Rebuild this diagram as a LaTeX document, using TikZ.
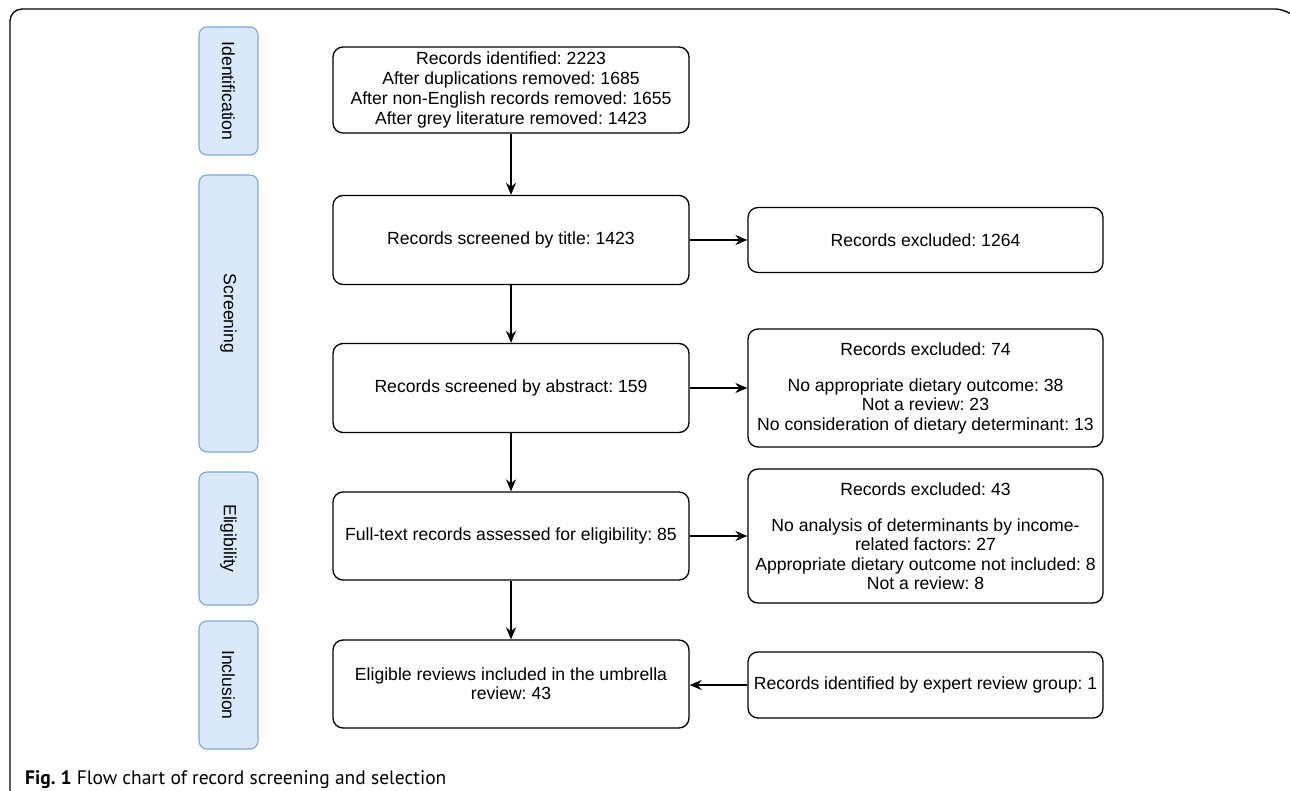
\documentclass[tikz,border=0pt]{standalone}
\usepackage{fontspec}
\setmainfont{Liberation Sans}
\newfontfamily\capfont{PT Sans}
\usetikzlibrary{arrows.meta}
\frenchspacing
\begin{document}
\begin{tikzpicture}[x=1pt,y=-1pt,
  box/.style={draw=black,line width=1.3pt,rounded corners=10pt,fill=white,align=center,font=\fontsize{17.6}{19.3}\selectfont,inner sep=0pt},
  stage/.style={draw=stageedge,line width=1.1pt,rounded corners=8pt,fill=stagefill},
  stagetext/.style={rotate=-90,font=\fontsize{17.6}{19}\selectfont},
  arr/.style={line width=1.4pt,-{Stealth[length=12pt,width=10pt]}}]
\definecolor{stagefill}{HTML}{DAE8FC}
\definecolor{stageedge}{HTML}{7EA6E0}
\useasboundingbox (0,0) rectangle (1290,791);
% outer frame
\draw[line width=1.3pt,rounded corners=12pt] (10,795) -- (10,9) -- (1287,9) -- (1290,12);
% stage boxes
\node[stage,minimum width=59pt,minimum height=128pt] (sid) at (228.5,91) {};
\node[stagetext] at (sid.center) {Identification};
\node[stage,minimum width=59pt,minimum height=277pt] (ssc) at (228.5,313.5) {};
\node[stagetext] at (ssc.center) {Screening};
\node[stage,minimum width=59pt,minimum height=133pt] (sel) at (228.5,538.5) {};
\node[stagetext] at (sel.center) {Eligibility};
\node[stage,minimum width=59pt,minimum height=128pt] (sin) at (228.5,685) {};
\node[stagetext] at (sin.center) {Inclusion};
% main column
\node[box,minimum width=356pt,minimum height=86pt,font=\fontsize{17.6}{20.3}\selectfont] (b1) at (511,90) {Records identified: 2223\\After duplications removed: 1685\\After non-English records removed: 1655\\After grey literature removed: 1423};
\node[box,minimum width=356pt,minimum height=89pt] (b2) at (511,240) {Records screened by title: 1423};
\node[box,minimum width=356pt,minimum height=89pt] (b3) at (511,388) {Records screened by abstract: 159};
\node[box,minimum width=356pt,minimum height=88pt] (b4) at (511,536) {Full-text records assessed for eligibility: 85};
\node[box,minimum width=356pt,minimum height=88pt] (b5) at (511,684) {Eligible reviews included in the umbrella\\review: 43};
% right column
\node[box,minimum width=355pt,minimum height=65pt] (r1) at (925.5,240) {Records excluded: 1264};
\node[box,minimum width=355pt,minimum height=118pt] (r2) at (925.5,388) {Records excluded: 74\\[17pt]No appropriate dietary outcome: 38\\Not a review: 23\\No consideration of dietary determinant: 13};
\node[box,minimum width=355pt,minimum height=134pt] (r3) at (925.5,536) {Records excluded: 43\\[17pt]No analysis of determinants by income-\\related factors: 27\\Appropriate dietary outcome not included: 8\\Not a review: 8};
\node[box,minimum width=355pt,minimum height=66pt] (r4) at (925.5,685) {Records identified by expert review group: 1};
% connectors
\draw[arr] (b1) -- (b2);
\draw[arr] (b2) -- (b3);
\draw[arr] (b3) -- (b4);
\draw[arr] (b4) -- (b5);
\draw[arr] (b2) -- (r1);
\draw[arr] (b3.east) -- (b3.east -| r2.west);
\draw[arr] (b4.east) -- (r3.west |- b4.east);
\draw[arr] (r4.west) -- (b5.east |- r4.west);
% caption
\node[anchor=base west,inner sep=0pt,font=\capfont\fontsize{19.5}{22}\selectfont] (cap) at (25,784) {\textbf{Fig. 1} Flow chart of record screening and selection};
\end{tikzpicture}
\end{document}
